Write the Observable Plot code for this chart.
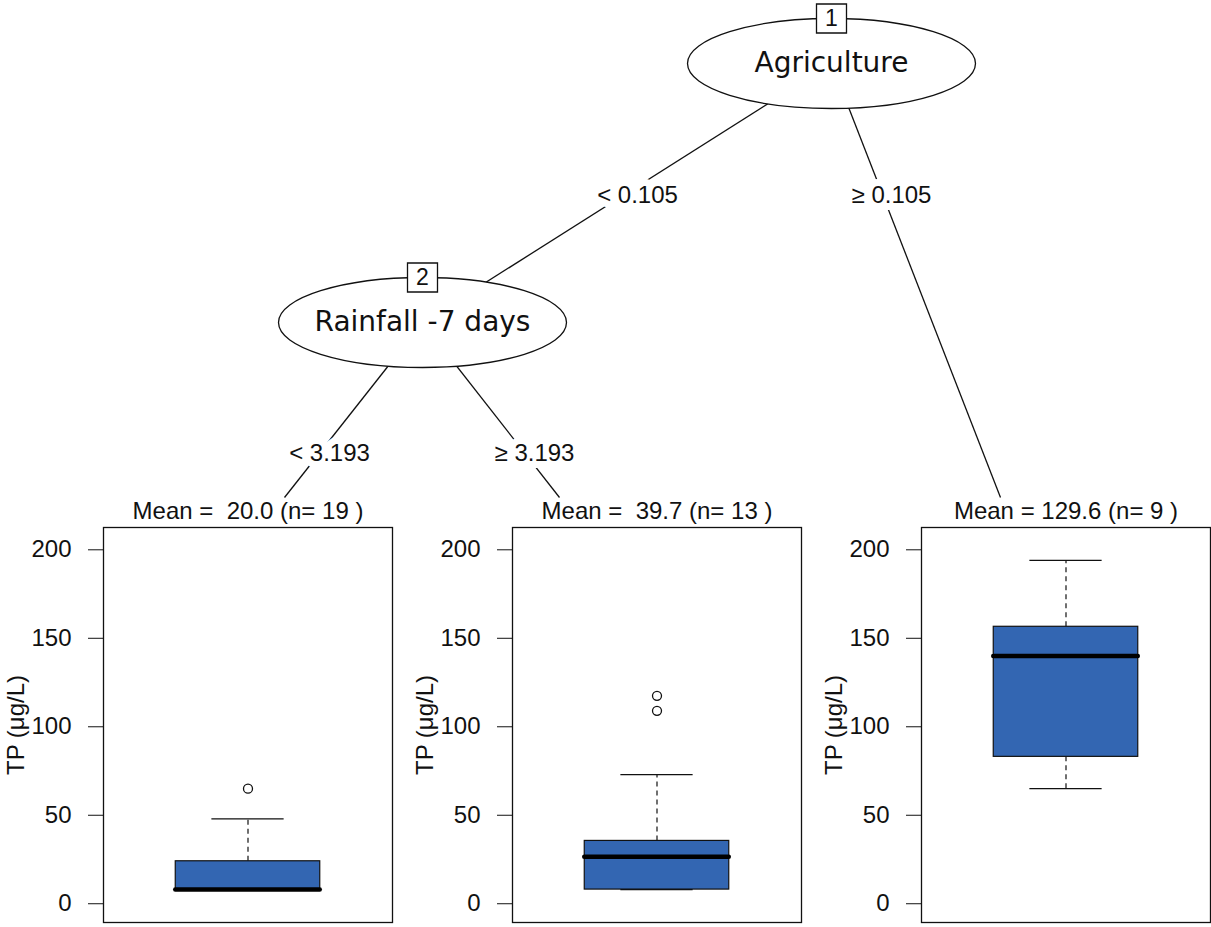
<!DOCTYPE html>
<html><head><meta charset="utf-8">
<script src="https://cdn.jsdelivr.net/npm/d3@7"></script>
<script src="https://cdn.jsdelivr.net/npm/@observablehq/plot@0.6"></script>
<style>
body{margin:0;background:#fff;}
#chart{position:relative;width:1211px;height:927px;overflow:hidden;background:#fff;}
#chart > svg{position:absolute;overflow:visible;}
</style></head><body><div id="chart"></div>
<script>
// ---------------- data ----------------
const innerNodeIds = [1, 2];
const innerLabels = ["Agriculture", "Rainfall -7 days"];
const splitLabels = ["< 0.105", "≥ 0.105", "< 3.193", "≥ 3.193"];
const terminalIds = [3, 4, 5];
const means = [20.0, 39.7, 129.6];
const counts = [19, 13, 9];
const whiskerLow = [8, 8, 65];
const q1 = [8, 8, 83];
const medians = [8, 26.5, 140];
const q3 = [24, 35.5, 156.5];
const whiskerHigh = [48, 73, 194];
const outliers = [[65], [109, 117.5], []];
const yTicks = [0, 50, 100, 150, 200];
const yTitle = "TP (μg/L)";

// ---------------- layout (pixels) ----------------
const W = 1211, H = 927;
const layout = {
  inner: [{x: 831, y: 63}, {x: 422, y: 322}],
  terminalTop: [{x: 284, y: 497}, {x: 559, y: 497}, {x: 1000, y: 497}],
  split: [{x: 637, y: 195}, {x: 891, y: 195}, {x: 329, y: 453}, {x: 534, y: 453}],
  edges: [["i", 0, "i", 1], ["i", 0, "t", 2], ["i", 1, "t", 0], ["i", 1, "t", 1]],
  frameLeft: [103, 512, 921], frameTop: 527, frameWidth: 289, frameHeight: 395,
  rx: 144, ry: 45
};
const FONT = "'Liberation Sans', Arial, sans-serif";
const NODEFONT = "'DejaVu Sans', Verdana, sans-serif";

// custom symbols
const ellipseSymbol = {draw(ctx) {
  const rx = layout.rx, ry = layout.ry, k = 0.5523;
  ctx.moveTo(rx, 0);
  ctx.bezierCurveTo(rx, ry * k, rx * k, ry, 0, ry);
  ctx.bezierCurveTo(-rx * k, ry, -rx, ry * k, -rx, 0);
  ctx.bezierCurveTo(-rx, -ry * k, -rx * k, -ry, 0, -ry);
  ctx.bezierCurveTo(rx * k, -ry, rx, -ry * k, rx, 0);
  ctx.closePath();
}};
const boxSymbol = {draw(ctx) { ctx.rect(-15, -14.5, 30, 29); }};

const chart = document.getElementById("chart");

// ---------------- tree ----------------
const nodeTable = innerNodeIds.map((id, i) => ({id, label: innerLabels[i], x: layout.inner[i].x, y: layout.inner[i].y}));
const pt = (kind, i) => kind === "i" ? layout.inner[i] : layout.terminalTop[i];
const edgeTable = layout.edges.map(([a, i, b, j]) => ({x1: pt(a, i).x, y1: pt(a, i).y, x2: pt(b, j).x, y2: pt(b, j).y}));
const splitTable = splitLabels.map((t, i) => ({text: t, x: layout.split[i].x, y: layout.split[i].y}));

const tree = Plot.plot({
  width: W, height: H, margin: 0,
  x: {type: "identity", axis: null},
  y: {type: "identity", axis: null},
  style: {fontFamily: FONT, background: "transparent", overflow: "visible"},
  marks: [
    Plot.link(edgeTable, {x1: "x1", y1: "y1", x2: "x2", y2: "y2", stroke: "#111", strokeWidth: 1.3}),
    Plot.dot(nodeTable, {x: "x", y: "y", r: 1, symbol: ellipseSymbol, fill: "white", stroke: "#111", strokeWidth: 1.3}),
    Plot.dot(nodeTable, {x: "x", y: d => d.y - layout.ry, r: 1, symbol: boxSymbol, fill: "white", stroke: "#111", strokeWidth: 1.3}),
    Plot.text(nodeTable, {x: "x", y: d => d.y - layout.ry, text: d => String(d.id), fontSize: 23, fill: "#111"}),
    Plot.text(nodeTable, {x: "x", y: "y", text: "label", fontSize: 28, fontFamily: NODEFONT, fill: "#111"}),
    Plot.text(splitTable, {x: "x", y: "y", text: "text", fontSize: 24, fill: "#111", stroke: "white", strokeWidth: 14, strokeLinejoin: "round", paintOrder: "stroke"})
  ]
});
tree.style.left = "0px"; tree.style.top = "0px";
chart.appendChild(tree);

// ---------------- terminal boxplots ----------------
const ML = 103, MT = 40;
terminalIds.forEach((id, i) => {
  const meanText = "Mean = " + (means[i] < 100 ? "\u00a0" : "") + means[i].toFixed(1) + " (n=\u00a0" + counts[i] + " )";
  const p = Plot.plot({
    width: ML + layout.frameWidth + 4, height: MT + layout.frameHeight + 4,
    marginLeft: ML, marginRight: 4, marginTop: MT, marginBottom: 4,
    style: {fontFamily: FONT, background: "transparent", color: "#111", overflow: "visible"},
    x: {domain: [0, 1], axis: null},
    y: {domain: [-10.6, 212.6], axis: null},
    marks: [
      Plot.axisY({ticks: yTicks, tickSize: 15, tickPadding: 17, fontSize: 24, tickFormat: d => String(d),
        label: yTitle, labelAnchor: "center", labelArrow: "none", labelOffset: 97}),
      Plot.ruleX([0.5], {y1: q3[i], y2: whiskerHigh[i], stroke: "#111", strokeWidth: 1.2, strokeDasharray: "5,4"}),
      Plot.ruleX([0.5], {y1: whiskerLow[i], y2: q1[i], stroke: "#111", strokeWidth: 1.2, strokeDasharray: "5,4"}),
      Plot.ruleY([whiskerHigh[i], whiskerLow[i]], {x1: 0.375, x2: 0.625, stroke: "#111", strokeWidth: 1.3}),
      Plot.rect([{lo: q1[i], hi: q3[i]}], {x1: 0.25, x2: 0.75, y1: "lo", y2: "hi", fill: "#3366b2", stroke: "#111", strokeWidth: 1.2}),
      Plot.ruleY([medians[i]], {x1: 0.25, x2: 0.75, stroke: "#000", strokeWidth: 4.5, strokeLinecap: "round"}),
      Plot.dot(outliers[i], {x: 0.5, y: d => d, r: 4.5, stroke: "#111", strokeWidth: 1.3, fill: "white"}),
      Plot.frame({stroke: "#111", strokeWidth: 1.3}),
      Plot.text([meanText], {frameAnchor: "top", lineAnchor: "middle", dy: -16, text: d => d, fontSize: 24, fill: "#111"})
    ]
  });
  p.style.left = (layout.frameLeft[i] - ML) + "px";
  p.style.top = (layout.frameTop - MT) + "px";
  chart.appendChild(p);
});
</script>
</body></html>
